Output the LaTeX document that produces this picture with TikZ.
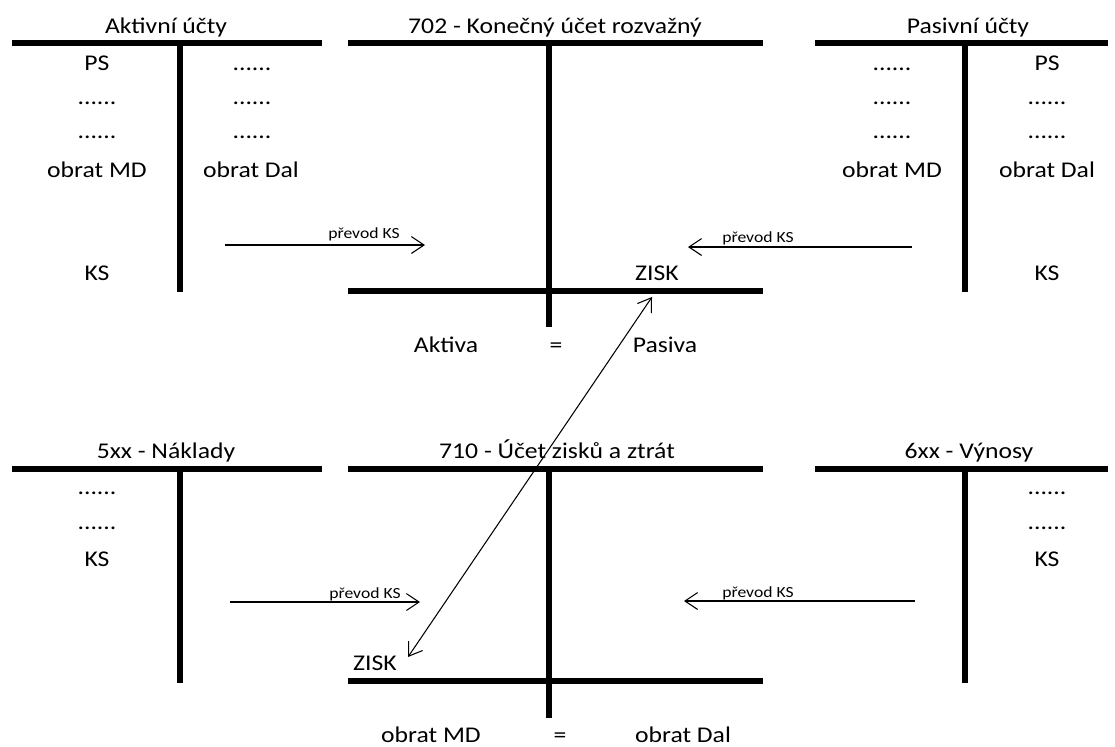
\documentclass[tikz,border=0pt]{standalone}
\usepackage{fontspec}
\setmainfont{Carlito}[FakeStretch=1.14]
\usetikzlibrary{arrows.meta}
\tikzset{
  konto/.style={line width=4.3pt},
  flow/.style={-{Straight Barb[length=9pt,width=12pt]},line width=0.75pt},
  flowboth/.style={{Straight Barb[length=9pt,width=12pt]}-{Straight Barb[length=9pt,width=12pt]},line width=0.75pt},
  txt/.style={anchor=base,inner sep=0pt,font=\fontsize{16}{19}\selectfont},
  small/.style={anchor=base,inner sep=0pt,font=\fontsize{11}{13}\selectfont}
}

\begin{document}
\begin{tikzpicture}[x=0.025cm,y=-0.025cm]
\useasboundingbox (0,0) rectangle (1115,746);
\draw[konto] (12,43) -- (322,43) (180,43) -- (180,292);
\draw[konto] (348,43) -- (763,43) (549,43) -- (549,327) (348,291) -- (763,291);
\draw[konto] (815,43) -- (1108,43) (965,43) -- (965,292);
\draw[konto] (12,469) -- (322,469) (180,469) -- (180,683);
\draw[konto] (348,469) -- (763,469) (549,469) -- (549,718) (348,681) -- (763,681);
\draw[konto] (815,469) -- (1108,469) (965,469) -- (965,683);

\node[txt] (aktT) at (166,33) {Aktivní účty};
\node[txt] (kurT) at (555,33) {702 - Konečný účet rozvažný};
\node[txt] (pasT) at (968,33) {Pasivní účty};
\node[txt] (nakT) at (166,458) {5xx - Náklady};
\node[txt] (vzzT) at (557,458) {710 - Účet zisků a ztrát};
\node[txt] (vynT) at (969,458) {6xx - Výnosy};

\node[txt] (aktPS) at (97,70) {PS};
\node[txt] (aktMa) at (97,104) {......};
\node[txt] (aktMb) at (97,138) {......};
\node[txt] (aktMD) at (97,177) {obrat MD};
\node[txt] (aktKS) at (97,280) {KS};
\node[txt] (aktDa) at (252,70) {......};
\node[txt] (aktDb) at (252,104) {......};
\node[txt] (aktDc) at (252,138) {......};
\node[txt] (aktD) at (251,177) {obrat Dal};

\node[txt] (pasMa) at (892,70) {......};
\node[txt] (pasMb) at (892,104) {......};
\node[txt] (pasMc) at (892,138) {......};
\node[txt] (pasMD) at (892,177) {obrat MD};
\node[txt] (pasPS) at (1047,70) {PS};
\node[txt] (pasDa) at (1047,104) {......};
\node[txt] (pasDb) at (1047,138) {......};
\node[txt] (pasD) at (1047,177) {obrat Dal};
\node[txt] (pasKS) at (1047,280) {KS};

\node[txt] (kurZisk) at (657,280) {ZISK};
\node[txt] (aktiva) at (446,352) {Aktiva};
\node[txt] (rovA) at (556,352) {=};
\node[txt] (pasiva) at (665,352) {Pasiva};

\node[txt] (nakMa) at (97,494) {......};
\node[txt] (nakMb) at (97,529) {......};
\node[txt] (nakKS) at (97,566) {KS};
\node[txt] (vynDa) at (1047,494) {......};
\node[txt] (vynDb) at (1047,529) {......};
\node[txt] (vynKS) at (1047,566) {KS};

\node[txt] (vzzZisk) at (375,670) {ZISK};
\node[txt] (vzzMD) at (431,742) {obrat MD};
\node[txt] (rovB) at (560,742) {=};
\node[txt] (vzzD) at (683,742) {obrat Dal};

\coordinate (aktOut) at (225,245);
\coordinate (kurInL) at (425,245);
\coordinate (pasOut) at (912,247);
\coordinate (kurInR) at (688,247);
\coordinate (nakOut) at (230,602);
\coordinate (vzzInL) at (420,602);
\coordinate (vynOut) at (915,601);
\coordinate (vzzInR) at (684,601);
\coordinate (ziskUp) at (652,297);
\coordinate (ziskDn) at (408,657);

\draw[flow] (aktOut) -- (kurInL);
\node[small] (lblA) at (364,238) {převod KS};
\draw[flow] (pasOut) -- (kurInR);
\node[small] (lblP) at (758,242) {převod KS};
\draw[flow] (nakOut) -- (vzzInL);
\node[small] (lblN) at (365,598) {převod KS};
\draw[flow] (vynOut) -- (vzzInR);
\node[small] (lblV) at (758,597) {převod KS};
\draw[flowboth] (ziskDn) -- (ziskUp);
\end{tikzpicture}
\end{document}
